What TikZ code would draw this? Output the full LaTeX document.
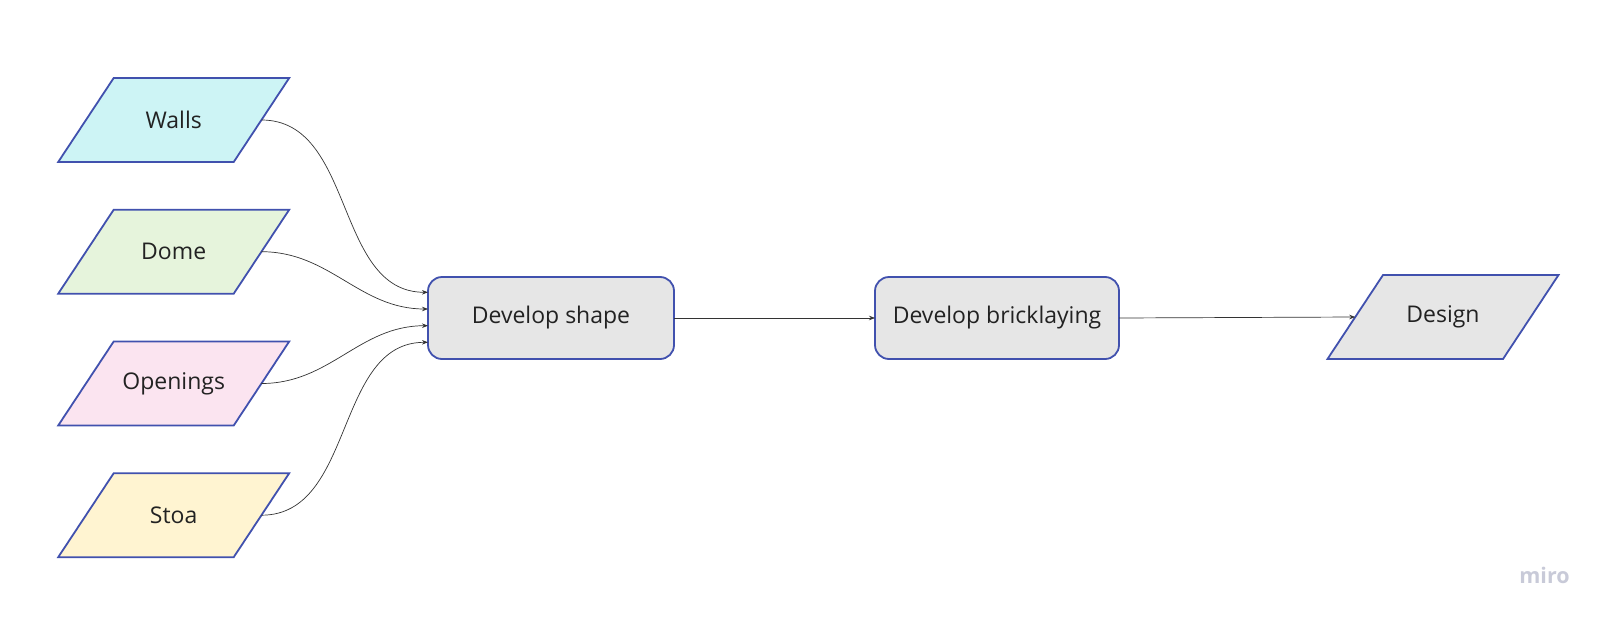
\documentclass[tikz,border=0pt]{standalone}
\usepackage{fontspec}
\setmainfont{Open Sans}
\usetikzlibrary{arrows.meta,calc,backgrounds}
\definecolor{bordc}{HTML}{4151AE}
\definecolor{txtc}{HTML}{222222}
\definecolor{linec}{HTML}{333333}
\definecolor{wallsc}{HTML}{CDF4F5}
\definecolor{domec}{HTML}{E6F4DC}
\definecolor{openc}{HTML}{FBE4F0}
\definecolor{stoac}{HTML}{FFF4D1}
\definecolor{grayc}{HTML}{E6E6E6}
\definecolor{miroc}{HTML}{C8CAD8}
\newcommand\drawpara[2]{%
  \begin{pgfonlayer}{background}
  \draw[draw=bordc, line width=1.8pt, fill=#2, line join=miter]
    ($(#1.north west)+(55.5,0)$) -- (#1.north east) --
    ($(#1.south east)+(-55.5,0)$) -- (#1.south west) -- cycle;
  \end{pgfonlayer}}
\begin{document}
\begin{tikzpicture}[x=1pt,y=-1pt,
  iobox/.style={rectangle, minimum width=231pt, minimum height=84pt,
    text=txtc, inner sep=0pt, outer sep=0pt,
    font=\fontsize{23}{28}\selectfont},
  procbox/.style={rectangle, rounded corners=14pt, draw=bordc, fill=grayc,
    line width=1.8pt, minimum width=246pt, minimum height=82pt, text=txtc,
    inner sep=0pt, outer sep=0pt, font=\fontsize{23}{28}\selectfont},
  link/.style={draw=linec, line width=0.7pt, -{Stealth[length=6pt,width=4.5pt]}}]
\useasboundingbox (0,0) rectangle (1608,621);

\node[iobox] (walls) at (173.7,120) {Walls};
\node[iobox] (dome) at (173.7,251.7) {Dome};
\node[iobox] (open) at (173.7,383.5) {Openings};
\node[iobox] (stoa) at (173.7,515.2) {Stoa};
\node[iobox] (design) at (1443,317) {Design};
\drawpara{walls}{wallsc}
\drawpara{dome}{domec}
\drawpara{open}{openc}
\drawpara{stoa}{stoac}
\drawpara{design}{grayc}

\coordinate (wallsR) at ($(walls.east)+(-27.75,0)$);
\coordinate (domeR) at ($(dome.east)+(-27.75,0)$);
\coordinate (openR) at ($(open.east)+(-27.75,0)$);
\coordinate (stoaR) at ($(stoa.east)+(-27.75,0)$);
\coordinate (designL) at ($(design.west)+(27.75,0)$);

\node[procbox] (shape) at (551,318) {Develop shape};
\node[procbox, minimum width=244pt] (brick) at (997,318) {Develop bricklaying};

\node[text=miroc, font=\fontsize{21.5}{24}\selectfont\bfseries, inner sep=0pt] (miro) at (1544.5,575) {miro};

\draw[link] (wallsR) to[out=0,in=180] ($(shape.west)+(0,-25.7)$);
\draw[link] (domeR) to[out=0,in=180] ($(shape.west)+(0,-9)$);
\draw[link] (openR) to[out=0,in=180] ($(shape.west)+(0,7.7)$);
\draw[link] (stoaR) to[out=0,in=180] ($(shape.west)+(0,24.3)$);
\draw[link] (shape.east) -- (brick.west);
\draw[link] (brick.east) -- (designL);
\end{tikzpicture}
\end{document}
